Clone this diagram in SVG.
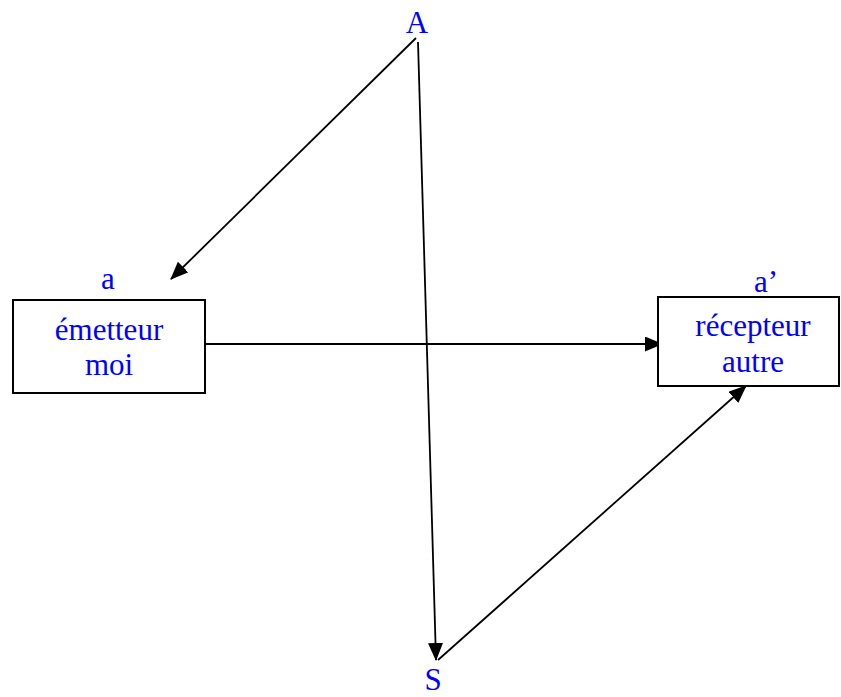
<svg xmlns="http://www.w3.org/2000/svg" width="841" height="697" viewBox="0 0 841 697">
<style>
.t{font-family:"Liberation Serif",serif;font-size:31px;fill:#0000ff;text-anchor:middle}
.box{fill:#fff;stroke:#000;stroke-width:2}
.c{stroke:#000;stroke-width:1.8;fill:none;marker-end:url(#ah)}
</style>
<defs>
<marker id="ah" markerWidth="18" markerHeight="15" refX="17" refY="7.5" orient="auto" markerUnits="userSpaceOnUse">
<path d="M0,0 L18,7.5 L0,15 z" fill="#000"/>
</marker>
</defs>
<rect width="841" height="697" fill="#fff"/>
<g id="connectors">
<line class="c" x1="416" y1="38" x2="171" y2="279"/>
<line class="c" x1="418" y1="42" x2="436" y2="660"/>
<line class="c" x1="205" y1="344" x2="662" y2="344"/>
<line class="c" x1="438" y1="660" x2="746" y2="386"/>
</g>
<g id="emetteur">
<rect class="box" x="13" y="300" width="192" height="93"/>
<text class="t" x="109" y="340">émetteur</text>
<text class="t" x="109" y="375">moi</text>
</g>
<g id="label-a"><text class="t" x="108" y="289">a</text></g>
<g id="recepteur">
<rect class="box" x="658" y="297" width="181" height="89"/>
<text class="t" x="753" y="336">récepteur</text>
<text class="t" x="753" y="372">autre</text>
</g>
<g id="label-a-prime"><text class="t" x="766" y="292">a’</text></g>
<g id="A"><text class="t" x="417" y="33">A</text></g>
<g id="S"><text class="t" x="433" y="690">S</text></g>
</svg>
